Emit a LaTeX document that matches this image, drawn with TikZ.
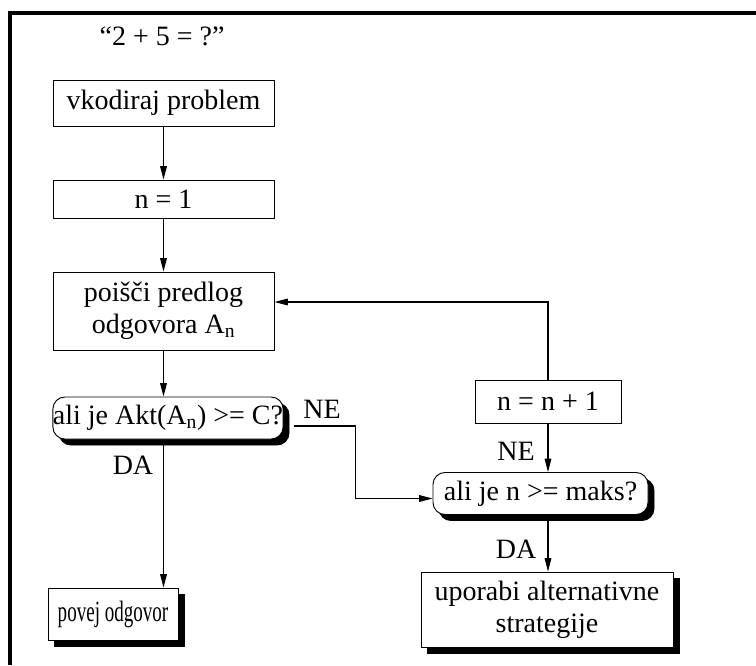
\documentclass[tikz,border=0pt]{standalone}
\usepackage{fontspec}
\usepackage{graphicx}
\setmainfont{Liberation Serif}
\usetikzlibrary{shapes.geometric, arrows.meta}
\newcommand{\boxfont}{\fontsize{21}{24}\selectfont}
\tikzstyle{process} = [
    rectangle,
    draw=black,
    fill=white,
    line width=0.7pt,
    align=center,
    inner sep=0pt,
    font=\boxfont
]
\tikzstyle{decision} = [
    process,
    rounded corners=9pt
]
\tikzstyle{shadowfill} = [fill=black, draw=black]
\tikzstyle{caption} = [font=\boxfont, inner sep=0pt]
\tikzstyle{line} = [line width=0.8pt]
\tikzstyle{arrow} = [line, -{Triangle[length=10pt, width=5pt]}]

\begin{document}
\begin{tikzpicture}[x=0.75pt, y=-0.75pt]

\useasboundingbox (0,0) rectangle (756,665);

% frame
\draw [line width=2.6pt] (756,13) -- (10,13) -- (10,665);

% shadows first, the boxes go on top
\node (checkactshadow) [decision, shadowfill, minimum width=172.5pt, minimum height=31.5pt]
at (174,424) {};
\node (answershadow) [process, shadowfill, minimum width=97.5pt, minimum height=39pt]
at (119,620) {};
\node (checkmaxshadow) [decision, shadowfill, minimum width=161.25pt, minimum height=31.5pt]
at (546.5,499.5) {};
\node (strategyshadow) [process, shadowfill, minimum width=189pt, minimum height=56.25pt]
at (553,615.5) {};

\node (question) [caption] at (162,36) {“2 + 5 = ?”};

\node (encode) [process, minimum width=165.75pt, minimum height=34.5pt]
at (163.5,103) {vkodiraj problem};

\node (init) [process, minimum width=165.75pt, minimum height=28.5pt]
at (163.5,199) {n = 1};

\node (propose) [process, minimum width=165.75pt, minimum height=58.5pt]
at (163.5,311) {poišči predlog\\odgovora A\textsubscript{n}};

\node (checkact) [decision, minimum width=172.5pt, minimum height=31.5pt]
at (168,418) {ali je Akt(A\textsubscript{n}) >= C?};

\node (answer) [process, minimum width=97.5pt, minimum height=39pt]
at (113,614) {\scalebox{0.68}[1.05]{povej odgovor}};

\node (incr) [process, minimum width=109.5pt, minimum height=32.25pt]
at (548,401.5) {n = n + 1};

\node (checkmax) [decision, minimum width=161.25pt, minimum height=31.5pt]
at (540.5,493.5) {ali je n >= maks?};

\node (strategy) [process, minimum width=189pt, minimum height=56.25pt]
at (547,609.5) {uporabi alternativne\\strategije};

\draw [arrow] (encode) -- (init);
\draw [arrow] (init) -- (propose);
\draw [arrow] (propose.south) -- (propose.south |- checkact.north);
\draw [arrow] (propose.south |- checkactshadow.south) -- (propose.south |- answer.north);
\draw [arrow] ([shift={(7.5pt,-6pt)}]checkact.east) -- ++(62,0)
    |- ([yshift=-3.75pt]checkmax.west);
\draw [arrow] (incr) -- (incr |- checkmax.north);
\draw [arrow] (incr.south |- checkmaxshadow.south) -- (incr.south |- strategy.north);
\draw [arrow] (incr.north) |- ([yshift=6.75pt]propose.east);

\node (ne1) [caption] at (322,409) {NE};
\node (da1) [caption] at (133,465) {DA};
\node (ne2) [caption] at (516,451) {NE};
\node (da2) [caption] at (516,549) {DA};

\end{tikzpicture}
\end{document}
